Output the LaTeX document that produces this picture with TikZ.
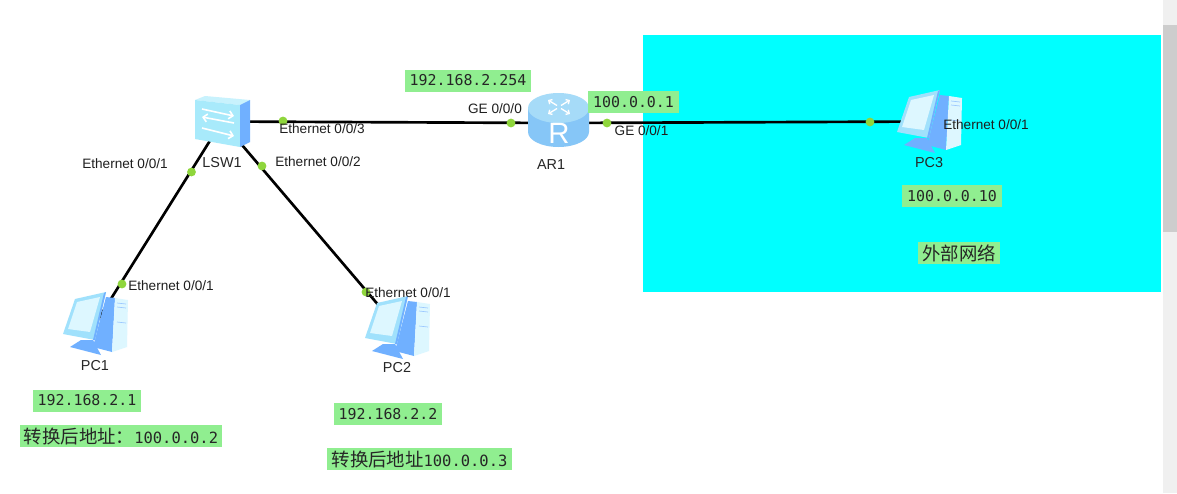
\documentclass[tikz,border=0pt]{standalone}
\usepackage{fontspec}
\setmainfont{Liberation Sans}
\newfontfamily\monofont{DejaVu Sans Mono}
\newfontfamily\cjkfont{Noto Sans CJK SC}
\usetikzlibrary{arrows.meta,positioning}
\definecolor{zone}{HTML}{00FFFF}
\definecolor{tag}{HTML}{90EE90}
\definecolor{port}{HTML}{8FD63C}
\definecolor{track}{HTML}{F0F0F0}
\definecolor{thumb}{HTML}{CDCDCD}
\definecolor{iconlight}{HTML}{A8EAFB}
\definecolor{iconpale}{HTML}{DDF7FF}
\definecolor{iconmid}{HTML}{70B0FF}
\definecolor{routertop}{HTML}{A6DBF8}
\definecolor{routerside}{HTML}{86C6F7}
\tikzset{
  pcbox/.style={inner sep=0pt,outer sep=0pt,minimum width=48.75pt,minimum height=47.25pt},
  swbox/.style={inner sep=0pt,outer sep=0pt,minimum width=40.5pt,minimum height=38.25pt},
  arbox/.style={inner sep=0pt,outer sep=0pt,minimum width=45.75pt,minimum height=40.5pt},
  link/.style={draw=black,line width=2pt},
  dot/.style={circle,fill=port,inner sep=0pt,minimum size=6.6pt},
  portlabel/.style={font=\fontsize{10.2}{12}\selectfont,inner sep=0pt,text=black!88},
  devlabel/.style={font=\fontsize{10.8}{12}\selectfont,inner sep=0pt,text=black!85},
  iptag/.style={fill=tag,inner xsep=3.6pt,inner ysep=0pt,minimum height=16.5pt,
    text=black!85,font=\fontsize{11.2}{13}\selectfont\monofont},
  cjktag/.style={fill=tag,inner xsep=3.2pt,inner ysep=0pt,minimum height=16.5pt,
    text=black!85,font=\fontsize{13.8}{15}\selectfont\cjkfont},
  pcicon/.pic={
    \fill[iconmid] (43,5) -- (52,6) -- (49,60) -- (30,55) -- cycle;
    \fill[iconpale] (52,6) -- (65,8) -- (64,55) -- (49,60) -- cycle;
    \draw[iconmid!70,line width=.5pt] (54,11) -- (63,12) (54,15) -- (63,16) (54,30) -- (63,31);
    \fill[iconmid] (7,55) -- (18,48) -- (30,48) -- (38,63) -- cycle;
    \fill[iconlight!85!iconmid] (12,7) -- (43,0) -- (32,48) -- (0,42) -- cycle;
    \fill[iconmid] (41,1) -- (43,0) -- (32,48) -- (30,48) -- cycle;
    \fill[iconpale] (14,10) -- (37,5) -- (27,40) -- (5,37) -- cycle;
  },
  switchicon/.pic={
    \fill[iconpale!60!iconlight] (0,4) -- (10,0) -- (55,4) -- (45,9) -- cycle;
    \fill[iconlight] (0,4) -- (45,9) -- (45,51) -- (0,43) -- cycle;
    \fill[iconmid] (45,9) -- (55,4) -- (55,46) -- (45,51) -- cycle;
    \draw[white,line width=1.2pt,-{Straight Barb[length=3pt,width=6pt]}] (7,13) -- (39,20);
    \draw[white,line width=1.2pt,-{Straight Barb[length=3pt,width=6pt]}] (39,27) -- (7,21);
    \draw[white,line width=1.2pt,-{Straight Barb[length=3pt,width=6pt]}] (7,32) -- (39,40);
  },
  routericon/.pic={
    \fill[routerside] (0,12) -- (0,36) arc[start angle=180,end angle=0,x radius=30.5,y radius=15] -- (61,12) -- cycle;
    \fill[routertop] (30.5,12) ellipse[x radius=30.5,y radius=15];
    \foreach \dx/\dy in {-1/-1,1/-1,-1/1,1/1}{
      \draw[white,line width=1pt,-{Straight Barb[length=2pt,width=4pt]}] (31+2*\dx,11+1.5*\dy) -- (31+11*\dx,11+7*\dy);
    }
    \node[text=white,inner sep=0pt,font=\fontsize{22}{22}\selectfont] (letter) at (31,37) {R};
  }
}
\begin{document}
\begin{tikzpicture}[x=0.75pt,y=-0.75pt]
  \useasboundingbox (0,0) rectangle (1177,493);
  \fill[white] (0,0) rectangle (1177,493);
  \fill[zone] (643,35) rectangle (1161,292);
  \fill[track] (1163,0) rectangle (1177,493);
  \fill[thumb] (1163,25) rectangle (1177,232);

  \node[swbox] (lsw) at (222,121.5) {};
  \node[arbox] (ar) at (558.5,123) {};
  \node[pcbox] (pc1) at (95.5,323.5) {};
  \node[pcbox] (pc2) at (397.5,327.5) {};
  \node[pcbox] (pc3) at (929.5,121.5) {};

  \draw[link] (lsw.center) -- (pc1.center);
  \draw[link] (lsw.center) -- (pc2.center);
  \draw[link] (lsw.center) -- (ar.center);
  \draw[link] (ar.center) -- (pc3.center);

  \pic at (lsw.north west) {switchicon};
  \pic at (ar.north west) {routericon};
  \pic at (pc1.north west) {pcicon};
  \pic at (pc2.north west) {pcicon};
  \pic at (pc3.north west) {pcicon};

  \node[dot] (d1) at (191.5,172) {};
  \node[dot] (d2) at (122,284) {};
  \node[dot] (d3) at (262,166) {};
  \node[dot] (d4) at (366,292) {};
  \node[dot] (d5) at (283,121) {};
  \node[dot] (d6) at (511,123) {};
  \node[dot] (d7) at (607,123) {};
  \node[dot] (d8) at (870,122) {};

  \node[devlabel] (lswname) at (222,163) {LSW1};
  \node[devlabel] (arname) at (551,165) {AR1};
  \node[devlabel] (pc1name) at (95,366) {PC1};
  \node[devlabel] (pc2name) at (397,368) {PC2};
  \node[devlabel] (pc3name) at (929,163) {PC3};

  \node[portlabel] (p1) at (125,163.5) {Ethernet 0/0/1};
  \node[portlabel] (p2) at (318,161.5) {Ethernet 0/0/2};
  \node[portlabel] (p3) at (322,128.5) {Ethernet 0/0/3};
  \node[portlabel] (p4) at (171,285.5) {Ethernet 0/0/1};
  \node[portlabel] (p5) at (408,292.5) {Ethernet 0/0/1};
  \node[portlabel] (p6) at (986,124.5) {Ethernet 0/0/1};
  \node[portlabel] (p7) at (495,108.5) {GE 0/0/0};
  \node[portlabel] (p8) at (641.5,130.5) {GE 0/0/1};

  \node[iptag] (ip1) at (468,80.5) {192.168.2.254};
  \node[iptag] (ip2) at (633.5,102) {100.0.0.1};
  \node[iptag] (ip3) at (952,196) {100.0.0.10};
  \node[iptag] (ip4) at (87,400.5) {192.168.2.1};
  \node[iptag] (ip5) at (388,414) {192.168.2.2};
  \node[cjktag] (t1) at (121,436) {转换后地址：{\fontsize{11.6}{13}\selectfont\monofont 100.0.0.2}};
  \node[cjktag] (t2) at (419.5,459) {转换后地址{\fontsize{11.6}{13}\selectfont\monofont 100.0.0.3}};
  \node[cjktag] (t3) at (959,253) {外部网络};
\end{tikzpicture}
\end{document}
